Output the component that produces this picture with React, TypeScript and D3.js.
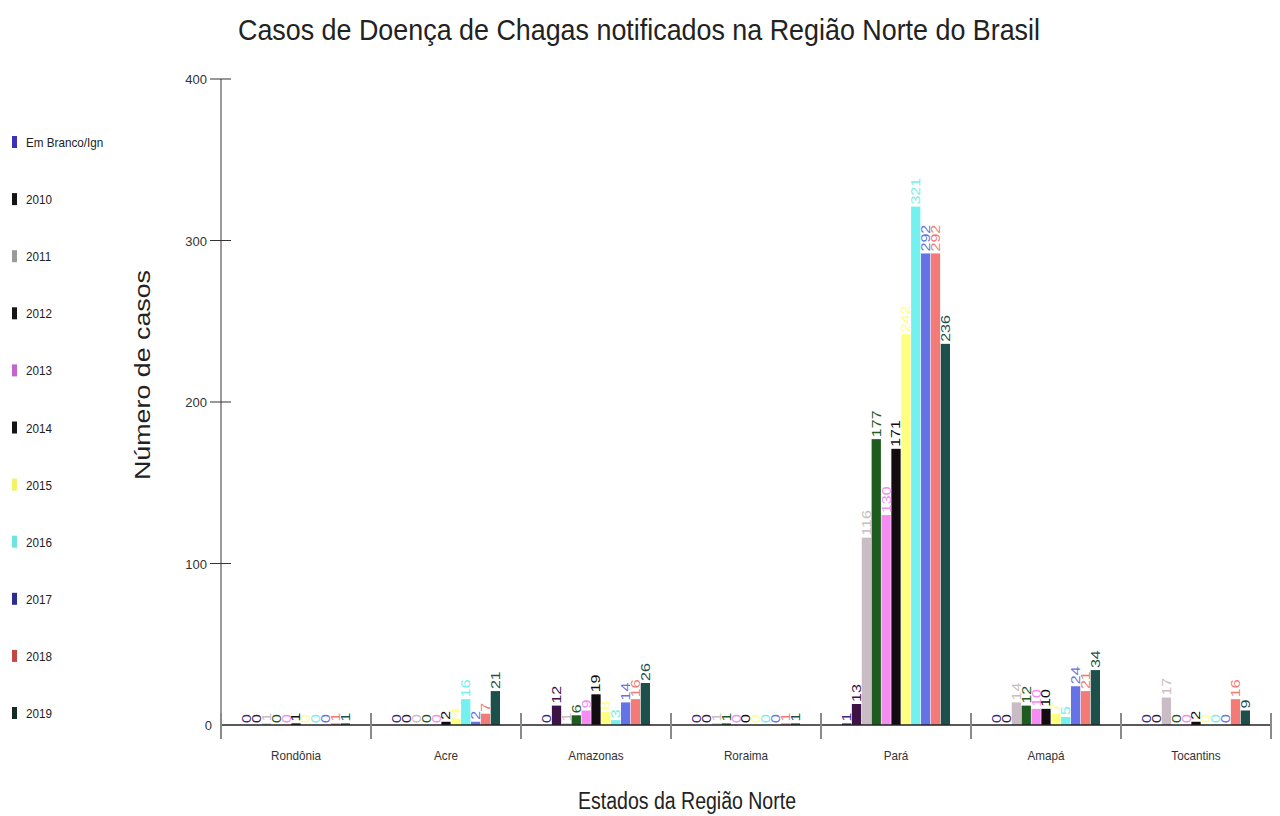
import React from "react";
import * as d3 from "d3";

// Estados da Região Norte (categorias do eixo x)
const states = ["Rondônia", "Acre", "Amazonas", "Roraima", "Pará", "Amapá", "Tocantins"];

// Séries (ano de notificação)
const seriesNames = ["Em Branco/Ign", "2010", "2011", "2012", "2013", "2014", "2015", "2016", "2017", "2018", "2019"];

// Casos por série, na ordem dos estados acima
const emBranco = [0, 0, 0, 0, 1, 0, 0];
const y2010 = [0, 0, 12, 0, 13, 0, 0];
const y2011 = [1, 0, 1, 1, 116, 14, 17];
const y2012 = [0, 0, 6, 1, 177, 12, 0];
const y2013 = [0, 0, 9, 0, 130, 10, 0];
const y2014 = [1, 2, 19, 0, 171, 10, 2];
const y2015 = [0, 4, 8, 0, 242, 7, 0];
const y2016 = [0, 16, 3, 0, 321, 5, 0];
const y2017 = [0, 2, 14, 0, 292, 24, 0];
const y2018 = [1, 7, 16, 1, 292, 21, 16];
const y2019 = [1, 21, 26, 1, 236, 34, 9];

const seriesValues = [emBranco, y2010, y2011, y2012, y2013, y2014, y2015, y2016, y2017, y2018, y2019];

// Cores das barras e das amostras da legenda
const barColors = ["#3b2a8c", "#3d1346", "#c9bcc4", "#1e5b1e", "#f58cf2", "#120b0f", "#ffff80", "#74f0ee", "#6673e6", "#f47a78", "#1d4f4b"];
const legendColors = ["#3a33b5", "#151515", "#9a9a9a", "#151515", "#c266cc", "#151515", "#f3f36a", "#6ee3e0", "#2d2d8f", "#c24848", "#132b22"];

const yTicks = [0, 100, 200, 300, 400];

const FONT = "'Liberation Sans', Arial, sans-serif";

export default function App() {
  const left = 221;
  const right = 1271;
  const top = 79;
  const bottom = 725;

  const x0 = d3.scaleBand<string>().domain(states).range([left, right]).paddingInner(0.28).paddingOuter(0.14);
  const x1 = d3.scaleBand<string>().domain(seriesNames).range([0, x0.bandwidth()]).paddingInner(0.06);
  const y = d3.scaleLinear().domain([0, 400]).range([bottom, top]);

  const step = x0.step();
  const boundaries = d3.range(states.length + 1).map((i) => left + i * step);

  return (
    <svg
      width={1280}
      height={816}
      style={{ position: "absolute", left: 0, top: 0, background: "#fff" }}
      fontFamily={FONT}
    >
      {/* Título */}
      <text x={639} y={40} fontSize={29} textAnchor="middle" fill="#222" textLength={802} lengthAdjust="spacingAndGlyphs">
        Casos de Doença de Chagas notificados na Região Norte do Brasil
      </text>

      {/* Legenda */}
      {seriesNames.map((name, i) => {
        const cy = 142 + i * 57.1;
        return (
          <g key={name}>
            <rect x={12} y={cy - 6} width={5} height={12} fill={legendColors[i]} />
            <text transform={`translate(26,${cy + 5}) scale(0.9,1)`} fontSize={13} fill="#222">
              {name}
            </text>
          </g>
        );
      })}

      {/* Eixo y */}
      <line x1={left} x2={left} y1={top} y2={bottom} stroke="#9a9a9a" strokeWidth={2} />
      {yTicks.map((t) => (
        <g key={t}>
          {t > 0 && <line x1={left - 11} x2={left + 10} y1={y(t)} y2={y(t)} stroke="#333" strokeWidth={1} />}
          <text x={t > 0 ? 207 : 212} y={y(t) + 5} fontSize={13} textAnchor="end" fill="#333">
            {t}
          </text>
        </g>
      ))}
      <text
        transform="translate(150,375) rotate(-90)"
        fontSize={22}
        textAnchor="middle"
        fill="#222"
        textLength={210}
        lengthAdjust="spacingAndGlyphs"
      >
        Número de casos
      </text>

      {/* Barras */}
      {states.map((st, si) => (
        <g key={st} transform={`translate(${x0(st)},0)`}>
          {seriesNames.map((name, k) => {
            const v = seriesValues[k][si];
            const bx = x1(name)!;
            const bw = x1.bandwidth();
            return (
              <rect key={name} x={bx} y={y(v)} width={bw} height={bottom - y(v)} fill={barColors[k]} />
            );
          })}
        </g>
      ))}

      {/* Rótulos de valor */}
      {states.map((st, si) => (
        <g key={st + "-lbl"} transform={`translate(${x0(st)},0)`}>
          {seriesNames.map((name, k) => {
            const v = seriesValues[k][si];
            const cx = x1(name)! + x1.bandwidth() / 2;
            const ty = y(v) - 2;
            return (
              <text
                key={name}
                transform={`translate(${cx},${ty}) scale(0.8,1) rotate(-90)`}
                fontSize={16}
                dy="0.35em"
                textAnchor="start"
                fill={barColors[k]}
              >
                {v}
              </text>
            );
          })}
        </g>
      ))}

      {/* Eixo x */}
      <line x1={left} x2={right + 1} y1={bottom} y2={bottom} stroke="#222" strokeWidth={1.5} />
      {boundaries.map((bx, i) => (
        <line key={i} x1={bx} x2={bx} y1={bottom - 12} y2={bottom + 14} stroke="#8a8a8a" strokeWidth={2} />
      ))}
      {states.map((st) => (
        <text
          key={st}
          transform={`translate(${x0(st)! + x0.bandwidth() / 2},760) scale(0.9,1)`}
          fontSize={13}
          textAnchor="middle"
          fill="#333"
        >
          {st}
        </text>
      ))}
      <text x={687} y={809} fontSize={23} textAnchor="middle" fill="#222" textLength={218} lengthAdjust="spacingAndGlyphs">
        Estados da Região Norte
      </text>
    </svg>
  );
}
